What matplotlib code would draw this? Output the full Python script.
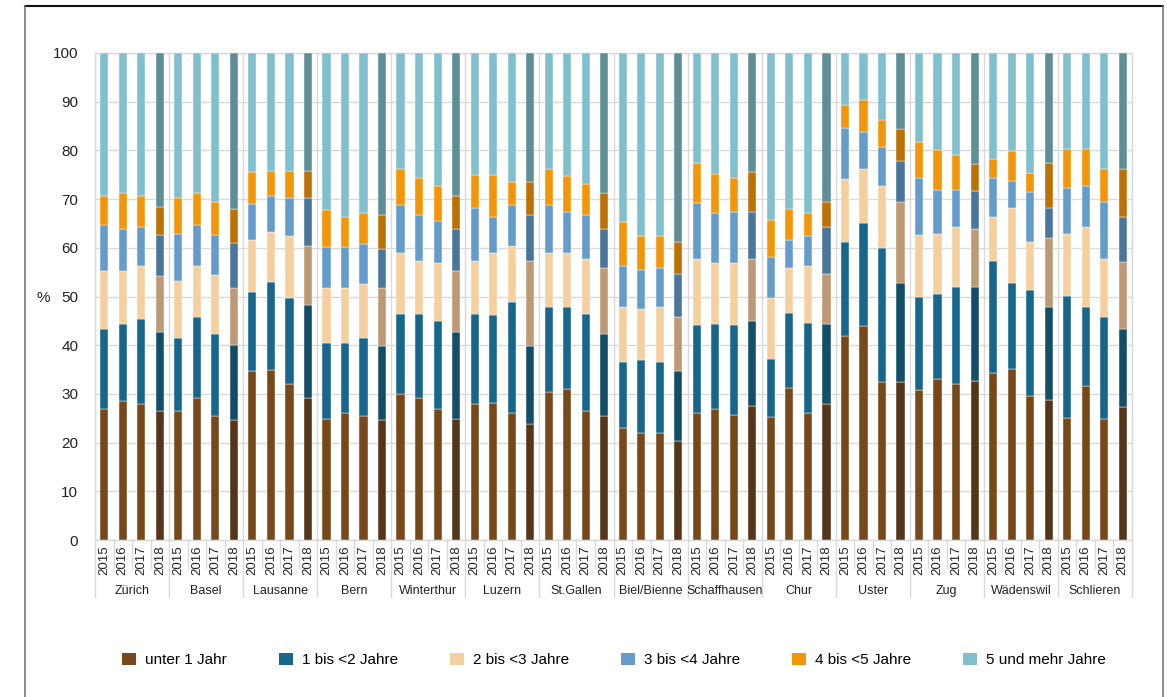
import matplotlib
matplotlib.use("Agg")
import matplotlib.pyplot as plt
from matplotlib.lines import Line2D
from matplotlib.patches import Patch
import numpy as np

plt.rcParams['font.family'] = ['Liberation Sans', 'DejaVu Sans']

cities = ["Zürich", "Basel", "Lausanne", "Bern", "Winterthur", "Luzern", "St.Gallen",
          "Biel/Bienne", "Schaffhausen", "Chur", "Uster", "Zug", "Wädenswil", "Schlieren"]
years = ["2015", "2016", "2017", "2018"]
series_names = ["unter 1 Jahr", "1 bis <2 Jahre", "2 bis <3 Jahre",
                "3 bis <4 Jahre", "4 bis <5 Jahre", "5 und mehr Jahre"]

# values per bar (city x year), in order 2015..2018 for each city
unter1 = [26.8, 28.5, 27.9, 26.5,  26.5, 29.2, 25.4, 24.6,  34.6, 34.9, 32.1, 29.2,
          24.8, 26.1, 25.4, 24.6,  29.9, 29.2, 26.8, 24.8,  27.9, 28.2, 26.1, 23.8,
          30.3, 31.0, 26.5, 25.5,  22.9, 21.9, 21.9, 20.3,  26.1, 26.8, 25.7, 27.6,
          25.2, 31.3, 26.1, 27.9,  41.9, 44.0, 32.4, 32.4,  30.7, 33.1, 32.0, 32.6,
          34.2, 35.2, 29.6, 28.7,  25.1, 31.7, 24.8, 27.4]
j1bis2 = [16.5, 15.8, 17.5, 16.3,  15.0, 16.5, 16.8, 15.5,  16.3, 18.1, 17.5, 19.1,
          15.7, 14.4, 16.1, 15.2,  16.5, 17.2, 18.2, 18.0,  18.5, 17.9, 22.8, 16.0,
          17.5, 16.8, 19.9, 16.7,  13.7, 15.1, 14.7, 14.5,  18.0, 17.5, 18.4, 17.4,
          12.0, 15.4, 18.5, 16.4,  19.2, 21.0, 27.6, 20.3,  19.2, 17.5, 20.0, 19.4,
          23.1, 17.5, 21.7, 19.1,  25.1, 16.1, 20.9, 15.9]
j2bis3 = [11.9, 10.9, 10.8, 11.5,  11.6, 10.5, 12.3, 11.6,  10.6, 10.2, 12.9, 12.1,
          11.2, 11.2, 11.1, 12.0,  12.6, 10.9, 11.9, 12.5,  10.9, 12.9, 11.5, 17.5,
          11.2, 11.2, 11.2, 13.7,  11.2, 10.4, 11.2, 10.9,  13.5, 12.6, 12.8, 12.8,
          12.4, 9.2, 11.6, 10.3,  13.0, 11.2, 12.7, 16.7,  12.7, 12.2, 12.3, 11.9,
          9.0, 15.4, 9.8, 14.3,  12.6, 16.5, 11.9, 13.7]
j3bis4 = [9.4, 8.7, 8.1, 8.3,  9.8, 8.4, 8.1, 9.2,  7.4, 7.4, 7.7, 9.8,
          8.4, 8.4, 8.2, 7.9,  9.8, 9.4, 8.7, 8.6,  10.8, 7.3, 8.4, 9.4,
          9.8, 8.4, 9.1, 8.0,  8.4, 8.1, 8.1, 9.0,  11.5, 10.2, 10.5, 9.6,
          8.5, 5.8, 6.3, 9.6,  10.4, 7.6, 8.0, 8.4,  11.8, 9.1, 7.6, 7.7,
          8.1, 5.6, 10.4, 6.0,  9.5, 8.3, 11.9, 9.3]
j4bis5 = [6.0, 7.4, 6.3, 5.7,  7.3, 6.7, 6.9, 7.0,  6.6, 5.2, 5.6, 5.6,
          7.7, 6.3, 6.3, 7.0,  7.3, 7.7, 7.1, 6.8,  6.9, 8.7, 4.7, 6.8,
          7.3, 7.3, 6.3, 7.3,  9.2, 7.0, 6.6, 6.4,  8.4, 8.0, 7.0, 8.2,
          7.7, 6.3, 4.6, 5.2,  4.9, 6.6, 5.6, 6.6,  7.4, 8.1, 7.1, 5.7,
          3.8, 6.2, 3.9, 9.4,  8.0, 7.7, 6.6, 9.8]
j5mehr = [29.4, 28.7, 29.4, 31.7,  29.8, 28.7, 30.5, 32.1,  24.5, 24.2, 24.2, 24.2,
          32.2, 33.6, 32.9, 33.3,  23.9, 25.6, 27.3, 29.3,  25.0, 25.0, 26.5, 26.5,
          23.9, 25.3, 27.0, 28.8,  34.6, 37.5, 37.5, 38.9,  22.5, 24.9, 25.6, 24.4,
          34.2, 32.0, 32.9, 30.6,  10.6, 9.6, 13.7, 15.6,  18.2, 20.0, 21.0, 22.7,
          21.8, 20.1, 24.6, 22.5,  19.7, 19.7, 23.9, 23.9]

colors_main = ["#774819", "#17668c", "#f6cf9f", "#659dca", "#f39508", "#80bfcd"]
colors_2018 = ["#56361a", "#134e68", "#bd9a75", "#4a7699", "#bc7106", "#5e8e96"]

W, H = 1167, 697
fig = plt.figure(figsize=(W / 100, H / 100), dpi=100)
ax = fig.add_axes([95 / W, 1 - 540 / H, (1132 - 95) / W, (540 - 53) / H])

data = [unter1, j1bis2, j2bis3, j3bis4, j4bis5, j5mehr]
n = len(cities) * len(years)
x = np.arange(n)
is2018 = np.array([years[i % 4] == "2018" for i in range(n)])
bottom = np.zeros(n)
for k, vals in enumerate(data):
    vals = np.array(vals)
    cols = [colors_2018[k] if f else colors_main[k] for f in is2018]
    ax.bar(x, vals, bottom=bottom, width=0.44, color=cols, edgecolor="white",
           linewidth=0.3, zorder=3)
    bottom += vals

ax.set_xlim(-0.5, n - 0.5)
ax.set_ylim(0, 100)
ax.set_yticks(np.arange(0, 101, 10))
ax.tick_params(axis="y", length=0, labelsize=11, pad=12, colors="#222222")
ax.grid(axis="y", color="#d9d9d9", linewidth=1, zorder=0)
for s in ["top", "right", "left", "bottom"]:
    ax.spines[s].set_color("#d9d9d9")
    ax.spines[s].set_linewidth(1)

# year labels
ax.set_xticks(x)
ax.set_xticklabels([years[i % 4] for i in range(n)], rotation=90, fontsize=9.5,
                   color="#222222")
ax.tick_params(axis="x", length=0, pad=4)

trans = ax.get_xaxis_transform()
# separators between bars below axis
for i in range(n + 1):
    xb = i - 0.5
    if i % 4 == 0:
        ax.add_line(Line2D([xb, xb], [0, -0.118], transform=trans, color="#d9d9d9",
                           linewidth=1, clip_on=False))
        ax.axvline(xb, color="#d9d9d9", linewidth=1, zorder=1)
    else:
        ax.add_line(Line2D([xb, xb], [0, -0.058], transform=trans, color="#d9d9d9",
                           linewidth=1, clip_on=False))
# city labels
for c, name in enumerate(cities):
    ax.text(c * 4 + 1.5, -0.105, name, transform=trans, ha="center", va="center",
            fontsize=9, color="#222222")

fig.text(43 / W, 1 - 298 / H, "%", ha="center", va="center", fontsize=11, color="#222222")

# legend
handles = [Patch(facecolor=colors_main[k], edgecolor="none") for k in range(6)]
fig.legend(handles, series_names, loc="center", bbox_to_anchor=(614 / W, 1 - 660 / H),
           ncol=6, frameon=False, fontsize=11, handlelength=0.9, handleheight=0.9,
           handletextpad=0.6, columnspacing=3.4)

# outer frame
fig.add_artist(Line2D([25 / W, 1163 / W], [1 - 6 / H, 1 - 6 / H], color="#111111",
                      linewidth=1.5, transform=fig.transFigure))
fig.add_artist(Line2D([25 / W, 25 / W], [0, 1 - 6 / H], color="#777777",
                      linewidth=1.2, transform=fig.transFigure))
fig.add_artist(Line2D([1163 / W, 1163 / W], [0, 1 - 6 / H], color="#777777",
                      linewidth=1.2, transform=fig.transFigure))

fig.savefig("out.png", dpi=100)
